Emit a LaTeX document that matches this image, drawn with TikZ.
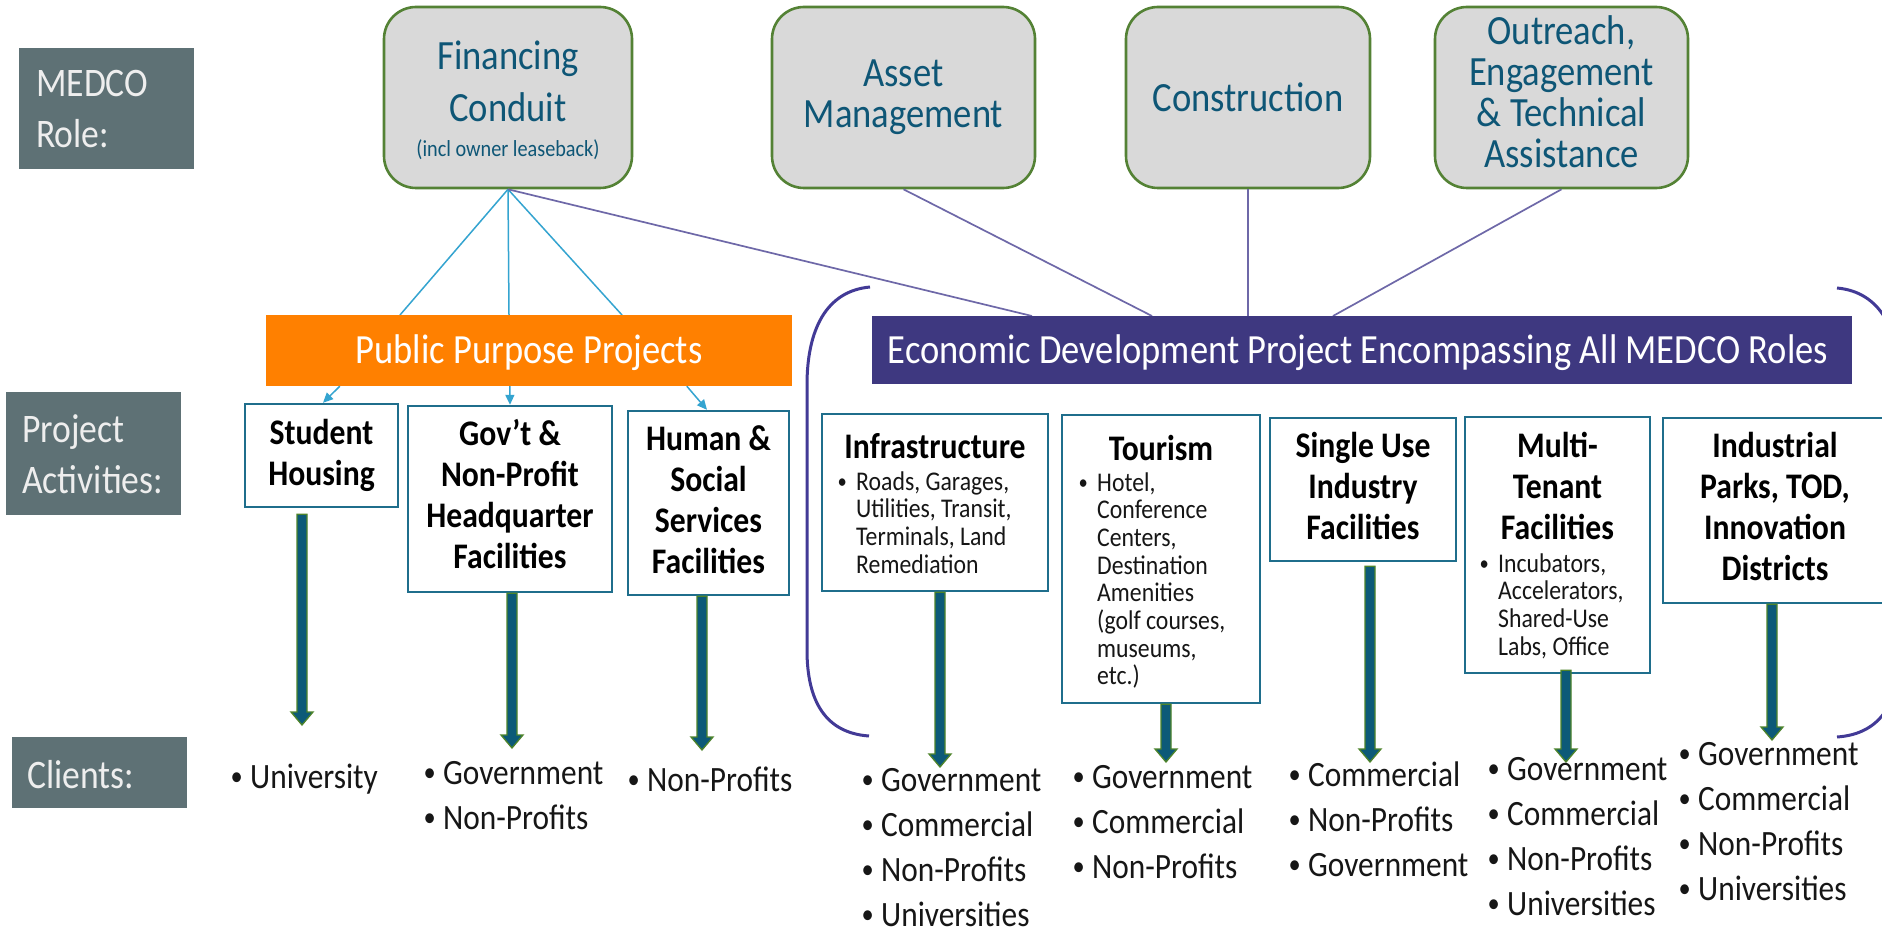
\documentclass[tikz,border=0pt]{standalone}
\usepackage{fontspec}
\usepackage{graphicx}
\setmainfont{Carlito}[FakeStretch=0.88]
\usetikzlibrary{calc,arrows.meta}

\definecolor{labelgray}{RGB}{94,113,117}
\definecolor{labelink}{RGB}{238,238,238}
\definecolor{rolefill}{RGB}{217,217,217}
\definecolor{roleedge}{RGB}{84,130,53}
\definecolor{roleink}{RGB}{14,86,118}
\definecolor{pppor}{RGB}{255,128,0}
\definecolor{ecopurple}{RGB}{62,56,128}
\definecolor{bracketc}{RGB}{66,58,150}
\definecolor{linkcyan}{RGB}{52,164,208}
\definecolor{linkpurple}{RGB}{110,104,168}
\definecolor{actedge}{RGB}{31,110,140}
\definecolor{arrowfill}{RGB}{12,90,120}
\definecolor{arrowedge}{RGB}{78,132,42}
\definecolor{inktext}{RGB}{22,22,22}

% bullet helpers
\newcommand\smallbul{\hspace*{1.5pt}\raisebox{0.06em}{\scalebox{0.78}{\textbullet}}}
\newcommand\bul{\makebox[21pt][l]{\smallbul}}
\newcommand\bulS{\makebox[20pt][l]{\smallbul}}
\newcommand\indS{\hspace*{20pt}}

% thick down arrow from the bottom of box #1 to tip coordinate #2, #3 = gap
\newcommand\fatarrow[3]{%
  \coordinate (#2-top) at ($(#2 |- #1.south)+(0,#3)$);
  \filldraw[bigarrow] ($(#2-top)+(-5,0)$) -- ($(#2)+(-5,-13)$) -- ($(#2)+(-11,-13)$)
     -- (#2) -- ($(#2)+(11,-13)$) -- ($(#2)+(5,-13)$) -- ($(#2-top)+(5,0)$) -- cycle;}

\begin{document}
\begin{tikzpicture}[x=1pt,y=-1pt,
  labelbox/.style={fill=labelgray,inner sep=0pt},
  labeltext/.style={anchor=base west,inner sep=0pt,text=labelink,font=\fontsize{40.5}{51}\selectfont},
  rolebox/.style={draw=roleedge,line width=2.6pt,fill=rolefill,rounded corners=32pt,inner sep=0pt},
  roletext/.style={anchor=base,inner sep=0pt,text=roleink,font=\fontsize{41.6}{41}\selectfont},
  barbox/.style={inner sep=0pt},
  bartext/.style={anchor=base,inner sep=0pt,text=white,font=\fontsize{41.5}{48}\selectfont},
  actbox/.style={draw=actedge,line width=2.4pt,fill=white,inner sep=0pt},
  acttitle/.style={anchor=base,inner sep=0pt,text=black,font=\bfseries\fontsize{36}{41.3}\selectfont},
  actlist/.style={anchor=base west,inner sep=0pt,text=inktext,font=\fontsize{27}{27.7}\selectfont},
  clientlist/.style={anchor=base west,inner sep=0pt,text=inktext,font=\fontsize{35.6}{45}\selectfont},
  cyanlink/.style={draw=linkcyan,line width=1.5pt},
  purplelink/.style={draw=linkpurple,line width=1.7pt},
  cyanarrow/.style={draw=linkcyan,line width=1.5pt,-{Triangle[length=10pt,width=9pt]}},
  bigarrow/.style={fill=arrowfill,draw=arrowedge,line width=1.3pt,line join=miter},
  bracket/.style={draw=bracketc,line width=3pt},
]
\useasboundingbox (0,0) rectangle (1882,933);
\clip (0,0) rectangle (1882,933);
\fill[white] (0,0) rectangle (1882,933);

% ---- row labels
\node[labelbox,minimum width=175pt,minimum height=121pt] (medco) at (106.5,108.5) {};
\node[labeltext] (medcoT) at (36,97) {\parbox[t]{150pt}{\raggedright MEDCO\\Role:}};
\node[labelbox,minimum width=175pt,minimum height=123pt] (projact) at (93.5,453.5) {};
\node[labeltext] (projactT) at (22,442) {\parbox[t]{160pt}{\raggedright Project\\Activities:}};
\node[labelbox,minimum width=175pt,minimum height=71pt] (clients) at (99.5,772.5) {};
\node[labeltext] (clientsT) at (27,788) {Clients:};

% ---- MEDCO roles
\node[rolebox,minimum width=248pt,minimum height=181pt] (fin) at (508,97.5) {};
\node[rolebox,minimum width=263pt,minimum height=181pt] (asset) at (903.5,97.5) {};
\node[rolebox,minimum width=244pt,minimum height=181pt] (constr) at (1248,97.5) {};
\node[rolebox,minimum width=253pt,minimum height=181pt] (outr) at (1561.5,97.5) {};
\node[roletext,font=\fontsize{41.6}{52}\selectfont] (finT) at (508,70) {\parbox[t]{240pt}{\centering Financing\\Conduit}};
\node[roletext,font=\fontsize{23}{28}\selectfont] (finS) at (508,157) {(incl owner leaseback)};
\node[roletext] (assetT) at (903.5,87) {\parbox[t]{250pt}{\centering Asset\\Management}};
\node[roletext] (constrT) at (1248,112) {Construction};
\node[roletext] (outrT) at (1561.5,45) {\parbox[t]{250pt}{\centering Outreach,\\Engagement\\\& Technical\\Assistance}};

% ---- project bars (positions for the links)
\coordinate (pppTopA) at (400,315);
\coordinate (pppTopB) at (509,315);
\coordinate (pppTopC) at (622,315);
\coordinate (ecoTopA) at (1032,316);
\coordinate (ecoTopB) at (1152,316);
\coordinate (ecoTopD) at (1333,316);

% links from roles to project types
\draw[cyanlink] (fin.south) -- (pppTopA);
\draw[cyanlink] (fin.south) -- (pppTopB);
\draw[cyanlink] (fin.south) -- (pppTopC);
\draw[purplelink] (fin.south) -- (ecoTopA);
\draw[purplelink] (asset.south) -- (ecoTopB);
\draw[purplelink] (constr.south) -- (constr.south |- ecoTopA);
\draw[purplelink] (outr.south) -- (ecoTopD);

\node[barbox,fill=pppor,minimum width=526pt,minimum height=71pt] (ppp) at (529,350.5) {};
\node[bartext] (pppT) at (529,363) {Public Purpose Projects};
\node[barbox,fill=ecopurple,minimum width=980pt,minimum height=68pt] (eco) at (1362,350) {};
\node[bartext] (ecoT) at (1358,363) {Economic Development Project Encompassing All MEDCO Roles};

% ---- brackets around the economic development group
\draw[bracket] (870,287) .. controls (826,291) and (807,330) .. (807,385)
  -- (807,650) .. controls (807,702) and (826,733) .. (869,736);
\draw[bracket] (1837,288) .. controls (1881,292) and (1900,331) .. (1900,386)
  -- (1900,650) .. controls (1900,702) and (1881,734) .. (1837,737);

% ---- project activities
\node[actbox,minimum width=153pt,minimum height=103pt] (stud) at (321.5,455.5) {};
\node[actbox,minimum width=204pt,minimum height=186pt] (gov) at (510,499) {};
\node[actbox,minimum width=161pt,minimum height=184pt] (hum) at (708.5,503) {};
\node[actbox,minimum width=226pt,minimum height=177pt] (infra) at (935,502.5) {};
\node[actbox,minimum width=198pt,minimum height=288pt] (tour) at (1161,559) {};
\node[actbox,minimum width=186pt,minimum height=143pt] (single) at (1363,489.5) {};
\node[actbox,minimum width=185pt,minimum height=256pt] (multi) at (1557.5,545) {};
\node[actbox,minimum width=224pt,minimum height=185pt] (indus) at (1775,510.5) {};

\node[acttitle] (studT) at (321.5,444) {\parbox[t]{150pt}{\centering Student\\Housing}};
\node[acttitle] (govT) at (510,445) {\parbox[t]{200pt}{\centering Gov’t \&\\Non-Profit\\Headquarter\\Facilities}};
\node[acttitle] (humT) at (708.5,450) {\parbox[t]{160pt}{\centering Human \&\\Social\\Services\\Facilities}};
\node[acttitle] (infraT) at (935,458) {Infrastructure};
\node[acttitle] (tourT) at (1161,460) {Tourism};
\node[acttitle] (singleT) at (1363,457) {\parbox[t]{180pt}{\centering Single Use\\Industry\\Facilities}};
\node[acttitle] (multiT) at (1557.5,457) {\parbox[t]{180pt}{\centering Multi-\\Tenant\\Facilities}};
\node[acttitle] (indusT) at (1775,457) {\parbox[t]{220pt}{\centering Industrial\\Parks, TOD,\\Innovation\\Districts}};

\node[actlist] (infraL) at (836,490) {\parbox[t]{210pt}{\raggedright\bulS Roads, Garages,\\\indS Utilities, Transit,\\\indS Terminals, Land\\\indS Remediation}};
\node[actlist] (tourL) at (1077,491) {\parbox[t]{180pt}{\raggedright\bulS Hotel,\\\indS Conference\\\indS Centers,\\\indS Destination\\\indS Amenities\\\indS (golf courses,\\\indS museums,\\\indS etc.)}};
\node[actlist] (multiL) at (1478,572) {\parbox[t]{170pt}{\raggedright\bulS Incubators,\\\indS Accelerators,\\\indS Shared-Use\\\indS Labs, Office}};

% ---- small arrows from the public purpose bar
\draw[cyanarrow] ($(ppp.south west)+(74,0)$) -- ($(stud.north)+(1.5,0)$);
\draw[cyanarrow] ($(ppp.south west)+(244,0)$) -- (gov.north);
\draw[cyanarrow] ($(ppp.south west)+(421,0)$) -- ($(hum.north)+(-1.5,0)$);

% ---- arrows to clients
\coordinate (tipStud) at (302,725);
\coordinate (tipGov) at (512,748);
\coordinate (tipHum) at (702,750);
\coordinate (tipInfra) at (940,767);
\coordinate (tipTour) at (1166,762);
\coordinate (tipSingle) at (1370,762);
\coordinate (tipMulti) at (1566,762);
\coordinate (tipIndus) at (1772,740);
\fatarrow{stud}{tipStud}{6}
\fatarrow{gov}{tipGov}{0}
\fatarrow{hum}{tipHum}{0}
\fatarrow{infra}{tipInfra}{0}
\fatarrow{tour}{tipTour}{0}
\fatarrow{single}{tipSingle}{4}
\fatarrow{multi}{tipMulti}{-4}
\fatarrow{indus}{tipIndus}{0}

% ---- clients
\node[clientlist] (clStud) at (229,788) {\bul University};
\node[clientlist] (clGov) at (422,784) {\parbox[t]{200pt}{\raggedright\bul Government\\\bul Non-Profits}};
\node[clientlist] (clHum) at (626,791) {\bul Non-Profits};
\node[clientlist] (clInfra) at (860,791) {\parbox[t]{200pt}{\raggedright\bul Government\\\bul Commercial\\\bul Non-Profits\\\bul Universities}};
\node[clientlist] (clTour) at (1071,788) {\parbox[t]{200pt}{\raggedright\bul Government\\\bul Commercial\\\bul Non-Profits}};
\node[clientlist] (clSingle) at (1287,786) {\parbox[t]{200pt}{\raggedright\bul Commercial\\\bul Non-Profits\\\bul Government}};
\node[clientlist] (clMulti) at (1486,780) {\parbox[t]{200pt}{\raggedright\bul Government\\\bul Commercial\\\bul Non-Profits\\\bul Universities}};
\node[clientlist] (clIndus) at (1677,765) {\parbox[t]{200pt}{\raggedright\bul Government\\\bul Commercial\\\bul Non-Profits\\\bul Universities}};
\end{tikzpicture}
\end{document}
